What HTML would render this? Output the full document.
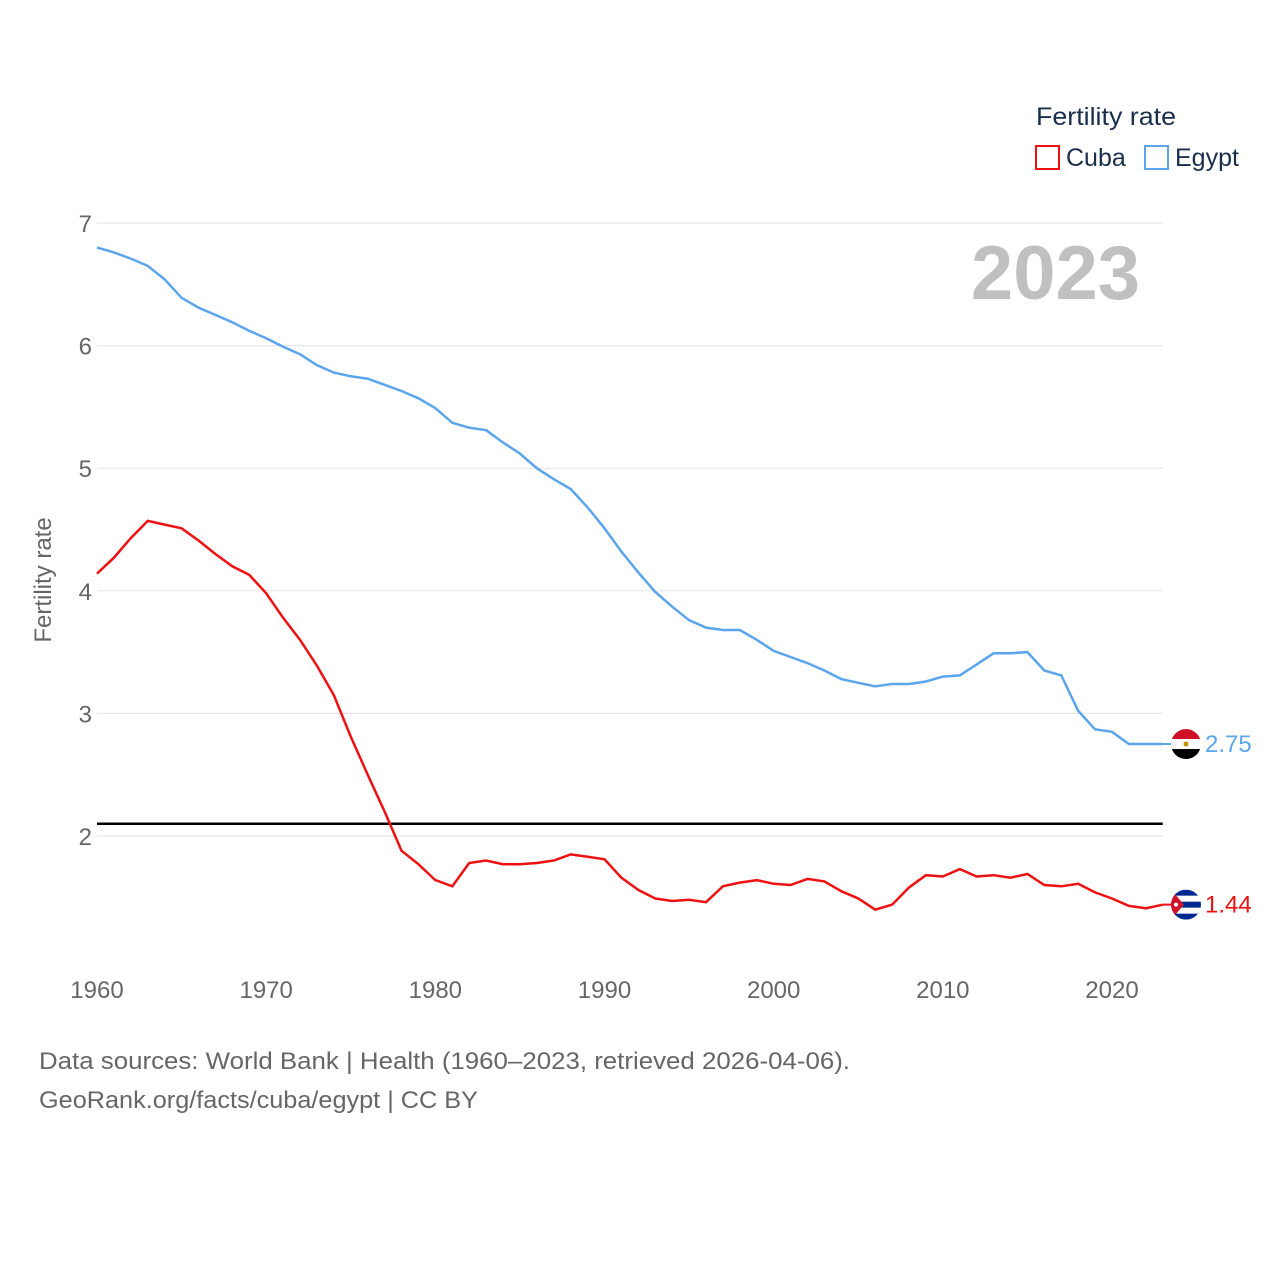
<!DOCTYPE html>
<html><head><meta charset="utf-8">
<style>
html,body{margin:0;padding:0;background:#fff;}
svg text{font-family:"Liberation Sans",sans-serif;}
</style></head>
<body>
<svg id="chart" width="1280" height="1280" viewBox="0 0 1280 1280" xmlns="http://www.w3.org/2000/svg">
<g id="grid"></g>
<g id="yticks"></g>
<g id="xticks"></g>
<text x="1140" y="299" text-anchor="end" font-size="76" font-weight="bold" fill="#c0c0c0">2023</text>
<text transform="translate(51,580) rotate(-90)" text-anchor="middle" font-size="24" fill="#666">Fertility rate</text>
<line id="refline" stroke="#000" stroke-width="2.5"/>
<path id="egypt" fill="none" stroke="#5aa5ec" stroke-width="2.5"/>
<path id="cuba" fill="none" stroke="#ee1111" stroke-width="2.5"/>
<g>
<text x="1036" y="125" font-size="25" fill="#1a2e4a" textLength="140" lengthAdjust="spacingAndGlyphs">Fertility rate</text>
<rect x="1036" y="146" width="23" height="23" fill="none" stroke="#ee1111" stroke-width="2"/>
<text x="1066" y="166" font-size="25" fill="#1a2e4a">Cuba</text>
<rect x="1145" y="146" width="23" height="23" fill="none" stroke="#5aa5ec" stroke-width="2"/>
<text x="1175" y="166" font-size="25" fill="#1a2e4a">Egypt</text>
</g>
<g id="endlabels"></g>
<text x="39" y="1069" font-size="24" fill="#666" textLength="811" lengthAdjust="spacingAndGlyphs">Data sources: World Bank | Health (1960–2023, retrieved 2026-04-06).</text>
<text x="39" y="1108" font-size="24" fill="#666" textLength="439" lengthAdjust="spacingAndGlyphs">GeoRank.org/facts/cuba/egypt | CC BY</text>
</svg>
<script>
const years = Array.from({length:64},(_,i)=>1960+i);
const egyptValues = [6.80,6.76,6.71,6.65,6.54,6.39,6.31,6.25,6.19,6.12,6.06,5.99,5.93,5.84,5.78,5.75,5.73,5.68,5.63,5.57,5.49,5.37,5.33,5.31,5.21,5.12,5.00,4.91,4.83,4.68,4.51,4.32,4.15,3.99,3.87,3.76,3.70,3.68,3.68,3.60,3.51,3.46,3.41,3.35,3.28,3.25,3.22,3.24,3.24,3.26,3.30,3.31,3.40,3.49,3.49,3.50,3.35,3.31,3.02,2.87,2.85,2.75,2.75,2.75];
const cubaValues = [4.14,4.27,4.43,4.57,4.54,4.51,4.41,4.30,4.20,4.13,3.98,3.78,3.60,3.39,3.15,2.81,2.50,2.20,1.88,1.77,1.64,1.59,1.78,1.80,1.77,1.77,1.78,1.80,1.85,1.83,1.81,1.66,1.56,1.49,1.47,1.48,1.46,1.59,1.62,1.64,1.61,1.60,1.65,1.63,1.55,1.49,1.40,1.44,1.58,1.68,1.67,1.73,1.67,1.68,1.66,1.69,1.60,1.59,1.61,1.54,1.49,1.43,1.41,1.44];
const yTicks = [2,3,4,5,6,7];
const xTicks = [1960,1970,1980,1990,2000,2010,2020];
const replacementRate = 2.1;
const NS="http://www.w3.org/2000/svg";
const X = y => 97 + (y-1960)*1015/60;
const Y = v => 223 + (7-v)*122.6;
const xEnd = X(2023);
const grid=document.getElementById('grid'), yt=document.getElementById('yticks'), xt=document.getElementById('xticks');
yTicks.forEach(t=>{
  const l=document.createElementNS(NS,'line');
  
  
  l.setAttribute('x1',97);l.setAttribute('x2',xEnd);l.setAttribute('y1',Y(t));l.setAttribute('y2',Y(t));
  l.setAttribute('stroke','#e6e6e6');l.setAttribute('stroke-width','1.2');
  grid.appendChild(l);
  const tx=document.createElementNS(NS,'text');
  
  
  tx.setAttribute('x',92);tx.setAttribute('y',Y(t)+9);tx.setAttribute('text-anchor','end');
  tx.setAttribute('font-size','24');tx.setAttribute('fill','#666');tx.textContent=t;
  yt.appendChild(tx);
});
xTicks.forEach(t=>{
  const tx=document.createElementNS(NS,'text');
  
  
  tx.setAttribute('x',X(t));tx.setAttribute('y',998);tx.setAttribute('text-anchor','middle');
  tx.setAttribute('font-size','24');tx.setAttribute('fill','#666');tx.textContent=t;
  xt.appendChild(tx);
});
const rl=document.getElementById('refline');
rl.setAttribute('x1',97);rl.setAttribute('x2',xEnd);rl.setAttribute('y1',Y(replacementRate));rl.setAttribute('y2',Y(replacementRate));
const path = vals => vals.map((v,i)=>(i?'L':'M')+X(years[i]).toFixed(1)+','+Y(v).toFixed(1)).join('');
document.getElementById('egypt').setAttribute('d',path(egyptValues));
document.getElementById('cuba').setAttribute('d',path(cubaValues));
const el=document.getElementById('endlabels');
function endLabel(vals,color,name,flag){
  const v=vals[vals.length-1], yy=Y(v), cx=1186;
  const ln=document.createElementNS(NS,'line');
  ln.setAttribute('x1',xEnd);ln.setAttribute('x2',cx);ln.setAttribute('y1',yy);ln.setAttribute('y2',yy);
  ln.setAttribute('stroke',color);ln.setAttribute('stroke-width','2');
  el.appendChild(ln);
  const g=document.createElementNS(NS,'g');
  
  
  g.innerHTML=flag(cx,yy);
  el.appendChild(g);
  const t=document.createElementNS(NS,'text');
  
  
  t.setAttribute('x',1205);t.setAttribute('y',yy+8);t.setAttribute('font-size','24');t.setAttribute('fill',color);
  t.textContent=v.toFixed(2);
  el.appendChild(t);
}
endLabel(egyptValues,'#5aa5ec','egypt',(cx,cy)=>`<clipPath id="ce"><circle cx="${cx}" cy="${cy}" r="15"/></clipPath><g clip-path="url(#ce)"><rect x="${cx-15}" y="${cy-15}" width="30" height="10" fill="#ce1126"/><rect x="${cx-15}" y="${cy-5}" width="30" height="10" fill="#fff"/><rect x="${cx-15}" y="${cy+5}" width="30" height="10" fill="#000"/><circle cx="${cx}" cy="${cy}" r="2.5" fill="#c09300"/></g>`);
endLabel(cubaValues,'#ee1111','cuba',(cx,cy)=>`<clipPath id="cc"><circle cx="${cx}" cy="${cy}" r="15"/></clipPath><g clip-path="url(#cc)"><rect x="${cx-15}" y="${cy-15}" width="30" height="30" fill="#fff"/><rect x="${cx-15}" y="${cy-15}" width="30" height="6" fill="#002a8f"/><rect x="${cx-15}" y="${cy-3}" width="30" height="6" fill="#002a8f"/><rect x="${cx-15}" y="${cy+9}" width="30" height="6" fill="#002a8f"/><polygon points="${cx-15},${cy-15} ${cx-2},${cy} ${cx-15},${cy+15}" fill="#cf142b"/><circle cx="${cx-10}" cy="${cy}" r="2" fill="#fff"/></g>`);
</script>
</body></html>
